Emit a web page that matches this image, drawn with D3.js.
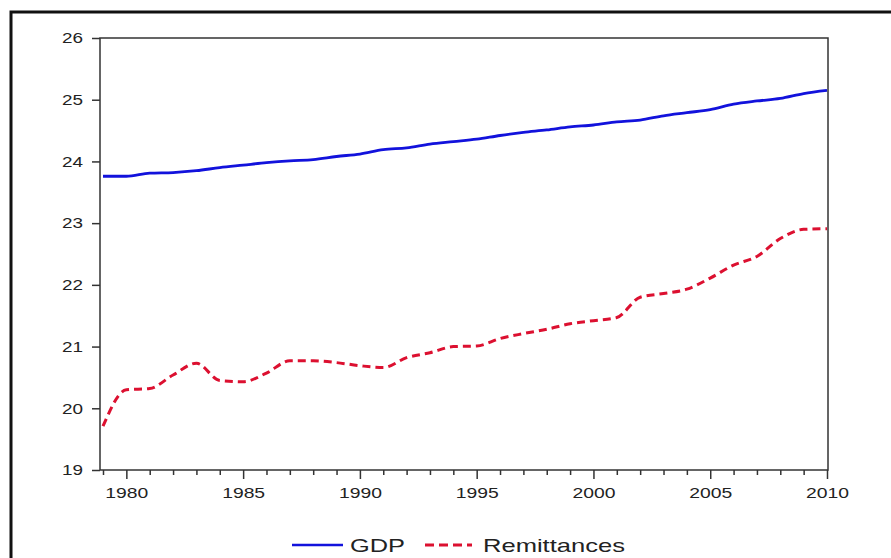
<!DOCTYPE html>
<html>
<head>
<meta charset="utf-8">
<script src="https://cdn.jsdelivr.net/npm/d3@7"></script>
<style>
  html, body { margin: 0; padding: 0; background: #fff; }
  svg { display: block; }
  text { font-family: "Liberation Sans", Arial, sans-serif; fill: #222; }
</style>
</head>
<body>
<svg id="chart" width="891" height="558"></svg>
<script>
// Annual series, 1979–2010 (log levels)
const years = d3.range(1979, 2011);
const gdp = [
  23.76, 23.76, 23.81, 23.82, 23.85, 23.90, 23.94, 23.98, 24.01, 24.03,
  24.08, 24.12, 24.19, 24.22, 24.28, 24.32, 24.36, 24.42, 24.47, 24.51,
  24.56, 24.59, 24.64, 24.67, 24.74, 24.79, 24.84, 24.93, 24.98, 25.02,
  25.10, 25.15
];
const remittances = [
  19.71, 20.30, 20.32, 20.54, 20.73, 20.45, 20.43, 20.57, 20.77, 20.77,
  20.74, 20.69, 20.66, 20.82, 20.90, 21.00, 21.01, 21.13, 21.21, 21.28,
  21.37, 21.42, 21.47, 21.80, 21.86, 21.93, 22.11, 22.32, 22.46, 22.75,
  22.90, 22.91
];
const yTicks = [19, 20, 21, 22, 23, 24, 25, 26];
const xLabelYears = [1980, 1985, 1990, 1995, 2000, 2005, 2010];
const seriesNames = ["GDP", "Remittances"];

const blue = "#1212dc";
const red = "#dc1030";

const svg = d3.select("#chart");

// outer frame
svg.append("rect")
  .attr("x", 11).attr("y", 12)
  .attr("width", 900).attr("height", 600)
  .attr("fill", "none").attr("stroke", "#111").attr("stroke-width", 3);

const plot = { left: 100, top: 38, right: 828, bottom: 470 };

const x = d3.scaleLinear().domain([1979, 2010]).range([103, 827]);
const y = d3.scaleLinear().domain([19, 26]).range([plot.bottom, plot.top]);

// plot box
svg.append("rect")
  .attr("x", plot.left).attr("y", plot.top)
  .attr("width", plot.right - plot.left).attr("height", plot.bottom - plot.top)
  .attr("fill", "none").attr("stroke", "#333").attr("stroke-width", 1.5);

// y axis
const yAxis = svg.append("g")
  .attr("transform", `translate(${plot.left},0)`)
  .call(d3.axisLeft(y).tickValues(yTicks).tickSize(8).tickPadding(9).tickFormat(d3.format("d")));
yAxis.select(".domain").remove();
yAxis.selectAll(".tick line").attr("stroke", "#333").attr("stroke-width", 1.5);
yAxis.selectAll(".tick text")
  .style("font-size", "15px").attr("fill", "#222")
  .attr("textLength", 21).attr("lengthAdjust", "spacingAndGlyphs");

// x axis: yearly ticks, longer ones where labelled
const xAxis = svg.append("g")
  .attr("transform", `translate(0,${plot.bottom})`)
  .call(d3.axisBottom(x).tickValues(years).tickSize(5).tickPadding(0)
    .tickFormat(d => xLabelYears.includes(d) ? String(d) : ""));
xAxis.select(".domain").remove();
xAxis.selectAll(".tick line")
  .attr("stroke", "#333").attr("stroke-width", 1.5)
  .attr("y2", d => xLabelYears.includes(d) ? 9 : 5);
xAxis.selectAll(".tick text")
  .filter(d => xLabelYears.includes(d))
  .style("font-size", "15px").attr("fill", "#222")
  .attr("y", 17).attr("dy", "0.71em")
  .attr("textLength", 43).attr("lengthAdjust", "spacingAndGlyphs");

// series lines
const line = d3.line()
  .x((d, i) => x(years[i]))
  .y(d => y(d))
  .curve(d3.curveMonotoneX);

svg.append("path")
  .datum(gdp)
  .attr("d", line)
  .attr("fill", "none")
  .attr("stroke", blue)
  .attr("stroke-width", 2.8);

svg.append("path")
  .datum(remittances)
  .attr("d", line)
  .attr("fill", "none")
  .attr("stroke", red)
  .attr("stroke-width", 3)
  .attr("stroke-dasharray", "8,5");

// legend
const legend = svg.append("g");
legend.append("line")
  .attr("x1", 292).attr("x2", 343).attr("y1", 545).attr("y2", 545)
  .attr("stroke", blue).attr("stroke-width", 2.6);
legend.append("text")
  .attr("x", 350).attr("y", 552)
  .style("font-size", "19px")
  .attr("textLength", 55).attr("lengthAdjust", "spacingAndGlyphs")
  .text(seriesNames[0]);
legend.append("line")
  .attr("x1", 425).attr("x2", 472).attr("y1", 545).attr("y2", 545)
  .attr("stroke", red).attr("stroke-width", 3)
  .attr("stroke-dasharray", "9,5");
legend.append("text")
  .attr("x", 483).attr("y", 552)
  .style("font-size", "19px")
  .attr("textLength", 142).attr("lengthAdjust", "spacingAndGlyphs")
  .text(seriesNames[1]);
</script>
</body>
</html>
